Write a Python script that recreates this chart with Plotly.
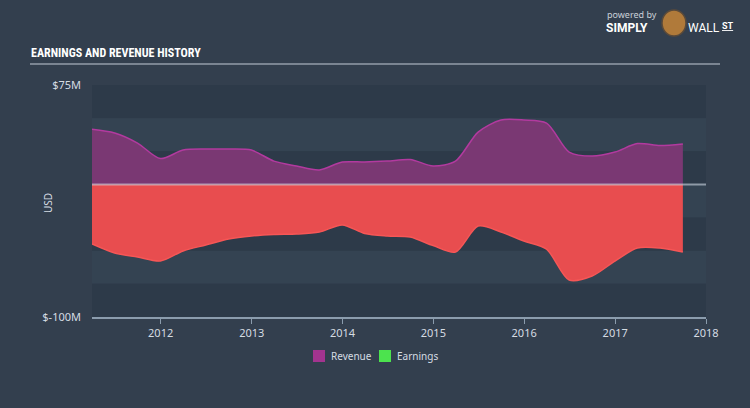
import plotly.graph_objects as go

dates = ["2011-03-31", "2011-06-30", "2011-09-30", "2011-12-31",
         "2012-03-31", "2012-06-30", "2012-09-30", "2012-12-31",
         "2013-03-31", "2013-06-30", "2013-09-30", "2013-12-31",
         "2014-03-31", "2014-06-30", "2014-09-30", "2014-12-31",
         "2015-03-31", "2015-06-30", "2015-09-30", "2015-12-31",
         "2016-03-31", "2016-06-30", "2016-09-30", "2016-12-31",
         "2017-03-31", "2017-06-30", "2017-09-30"]

revenue = [41.6, 38.8, 31.2, 19.5, 25.9, 26.7, 26.7, 25.9, 17.6, 13.9, 10.9, 16.9,
           16.9, 17.6, 18.8, 13.9, 17.6, 39.5, 48.6, 48.6, 46.3, 24.4, 21.4, 24.4,
           30.8, 29.3, 30.5]

earnings = [-44.9, -51.7, -54.8, -57.8, -50.2, -45.7, -41.2, -38.9, -37.8, -37.4, -35.9, -30.6,
            -37.0, -38.9, -39.7, -46.1, -51.0, -31.4, -35.9, -42.7, -48.8, -72.1, -69.1, -57.8,
            -48.0, -48.0, -51.0]

year_ticks = ["2012-01-01", "2013-01-01", "2014-01-01", "2015-01-01",
              "2016-01-01", "2017-01-01", "2018-01-01"]
year_labels = ["2012", "2013", "2014", "2015", "2016", "2017", "2018"]

y_ticks = [75, -100]
y_labels = ["$75M", "$-100M"]

band_edges = [75, 50, 25, 0, -25, -50, -75, -100]

series_names = ["Revenue", "Earnings"]
legend_colors = ["#a3348f", "#4ce34e"]

BG = "#333f4e"
TXT = "#d5dce3"

L, R, T, B = 92, 44, 85, 91
PW, PH = 750 - L - R, 408 - T - B


def px(x):
    return (x - L) / PW


def py(y):
    return 1 - (y - T) / PH


fig = go.Figure()

fig.add_trace(go.Scatter(
    x=dates, y=revenue, mode="lines", name=series_names[0],
    line=dict(color="#b23a9f", width=1.5, shape="spline", smoothing=0.8),
    fill="tozeroy", fillcolor="#7a3873", showlegend=False, hoverinfo="skip"))
fig.add_trace(go.Scatter(
    x=dates, y=earnings, mode="lines", name=series_names[1],
    line=dict(color="#f65656", width=1.5, shape="spline", smoothing=0.8),
    fill="tozeroy", fillcolor="#e84d4f", showlegend=False, hoverinfo="skip"))

shapes = []
for i in range(len(band_edges) - 1):
    col = "#2d3a49" if i % 2 == 0 else "#344352"
    shapes.append(dict(type="rect", xref="paper", yref="y", x0=0, x1=1,
                       y0=band_edges[i + 1], y1=band_edges[i], fillcolor=col,
                       line=dict(width=0), layer="below"))
shapes.append(dict(type="line", xref="paper", yref="y", x0=0, x1=1, y0=0, y1=0,
                   line=dict(color="rgba(220,230,240,0.55)", width=2), layer="above"))
shapes.append(dict(type="line", xref="paper", yref="paper", x0=px(30), x1=px(720),
                   y0=py(64), y1=py(64), line=dict(color="#c3ccd5", width=1.2)))
shapes.append(dict(type="circle", xref="paper", yref="paper", x0=px(662), x1=px(686),
                   y0=py(36), y1=py(10), fillcolor="#b07a3a", line=dict(color="#5a4a3a", width=1.5)))
leg_x = [313, 379]
for i, c in enumerate(legend_colors):
    shapes.append(dict(type="rect", xref="paper", yref="paper",
                       x0=px(leg_x[i]), x1=px(leg_x[i] + 12),
                       y0=py(362), y1=py(350), fillcolor=c, line=dict(width=0)))

fig.update_layout(
    width=750, height=408,
    margin=dict(l=L, r=R, t=T, b=B, autoexpand=False),
    paper_bgcolor=BG, plot_bgcolor=BG,
    shapes=shapes,
    font=dict(family="Noto Sans, Open Sans, sans-serif", color=TXT, size=11),
    showlegend=False,
    xaxis=dict(type="date", range=["2011-03-31", "2018-01-01"], automargin=False,
               tickvals=year_ticks, ticktext=year_labels,
               showgrid=False, zeroline=False,
               showline=True, linecolor="#8b9cad", linewidth=1.5,
               ticks="outside", ticklen=5, tickcolor="#8b9cad", tickwidth=1,
               tickfont=dict(size=11, color=TXT)),
    yaxis=dict(range=[-100, 75], tickvals=y_ticks, ticktext=y_labels, automargin=False,
               showgrid=False, zeroline=False, showline=False, ticks="",
               ticklabelstandoff=10,
               tickfont=dict(size=11, color=TXT)),
)

for i, name in enumerate(series_names):
    fig.add_annotation(xref="paper", yref="paper", x=px(leg_x[i] + 16), y=py(356),
                       xanchor="left", yanchor="middle", showarrow=False,
                       text=name, font=dict(size=10, color=TXT))

fig.add_annotation(xref="paper", yref="paper", x=px(48), y=py(203), textangle=-90,
                   xanchor="center", yanchor="middle", showarrow=False,
                   text="USD", font=dict(size=10, color=TXT))

fig.add_annotation(xref="paper", yref="paper", x=px(29), y=py(53),
                   xanchor="left", yanchor="middle", showarrow=False,
                   text="<b>EARNINGS AND REVENUE HISTORY</b>",
                   font=dict(family="Roboto Condensed, Liberation Sans Narrow, Roboto, sans-serif",
                             size=12, color="#ffffff"))

fig.add_annotation(xref="paper", yref="paper", x=px(606), y=py(14),
                   xanchor="left", yanchor="middle", showarrow=False, borderpad=0,
                   text="powered by", font=dict(size=9, color="#c9d0d8", family="Noto Sans, sans-serif"))
fig.add_annotation(xref="paper", yref="paper", x=px(605), y=py(28),
                   xanchor="left", yanchor="middle", showarrow=False, borderpad=0,
                   text="<b>SIMPLY</b>", font=dict(size=12, color="#ffffff", family="Roboto, sans-serif"))
fig.add_annotation(xref="paper", yref="paper", x=px(687), y=py(28),
                   xanchor="left", yanchor="middle", showarrow=False, borderpad=0,
                   text="WALL", font=dict(size=12, color="#ffffff", family="Roboto, sans-serif"))
fig.add_annotation(xref="paper", yref="paper", x=px(721), y=py(26),
                   xanchor="left", yanchor="middle", showarrow=False, borderpad=0,
                   text="<b><u>ST</u></b>", font=dict(size=9, color="#ffffff", family="Roboto, sans-serif"))

fig.write_html("out.html")
